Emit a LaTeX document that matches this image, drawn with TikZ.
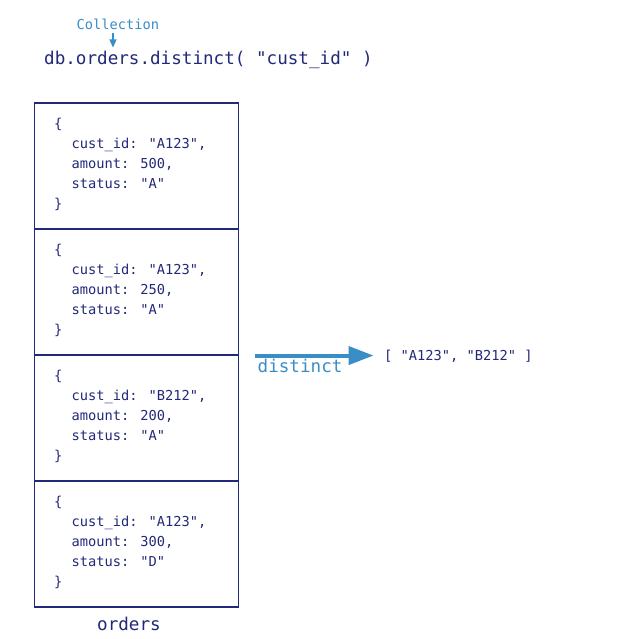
\documentclass[tikz,border=0pt]{standalone}
\usepackage{fontspec}
\newfontfamily\mono{DejaVu Sans Mono}
\usetikzlibrary{arrows.meta}
\definecolor{navy}{HTML}{23297A}
\definecolor{lblue}{HTML}{3A8EC6}
\begin{document}
\begin{tikzpicture}[x=1pt,y=-1pt,
  big/.style={font=\mono\fontsize{17.6}{20}\selectfont, text=navy, inner sep=0pt},
  body/.style={font=\mono\fontsize{13.7}{20}\selectfont, text=navy, inner sep=0pt, anchor=base west},
  cell/.style={draw=navy, line width=1.1pt, minimum width=204pt, minimum height=126pt, inner sep=0pt},
]
\useasboundingbox[fill=white] (0,0) rectangle (639,639);
% title
\node[big, anchor=base west] (title) at (44,65) {db.orders.distinct( "cust\_id" )};
\node[body, text=lblue] (coll) at (76.5,30) {Collection};
\coordinate (collend) at (113,47.5);
\draw[lblue, line width=1.2pt, -{Triangle[length=8pt,width=7pt]}] (113,33) coordinate (collstart) -- (collend);
% cells
\foreach \i/\id/\amt/\st in {0/A123/500/A, 1/A123/250/A, 2/B212/200/A, 3/A123/300/D} {
  \pgfmathsetmacro\yo{126*\i}
  \node[cell] (c\i) at (136.3,{166+\yo}) {};
  \node[body] (ob\i) at (54,{128.3+\yo}) {\{};
  \node[body] (id\i) at (71.5,{148.3+\yo}) {cust\_id: "\id",};
  \node[body] (am\i) at (71.5,{168.3+\yo}) {amount: \amt,};
  \node[body] (st\i) at (71.5,{188.3+\yo}) {status: "\st"};
  \node[body] (cb\i) at (54,{208.3+\yo}) {\}};
}
\node[big, anchor=base] (orders) at (129,630) {orders};
% distinct arrow
\coordinate (dstart) at ([xshift=15.7pt]c1.south east);
\coordinate (dend) at ([xshift=134.7pt]c1.south east);
\draw[lblue, line width=4pt, -{Triangle[length=25pt,width=18pt]}] (dstart) -- (dend);
\node[big, text=lblue, anchor=base west] (dlabel) at (257.5,372.5) {distinct};
\node[body] (result) at (384,360) {[ "A123", "B212" ]};
\end{tikzpicture}
\end{document}
